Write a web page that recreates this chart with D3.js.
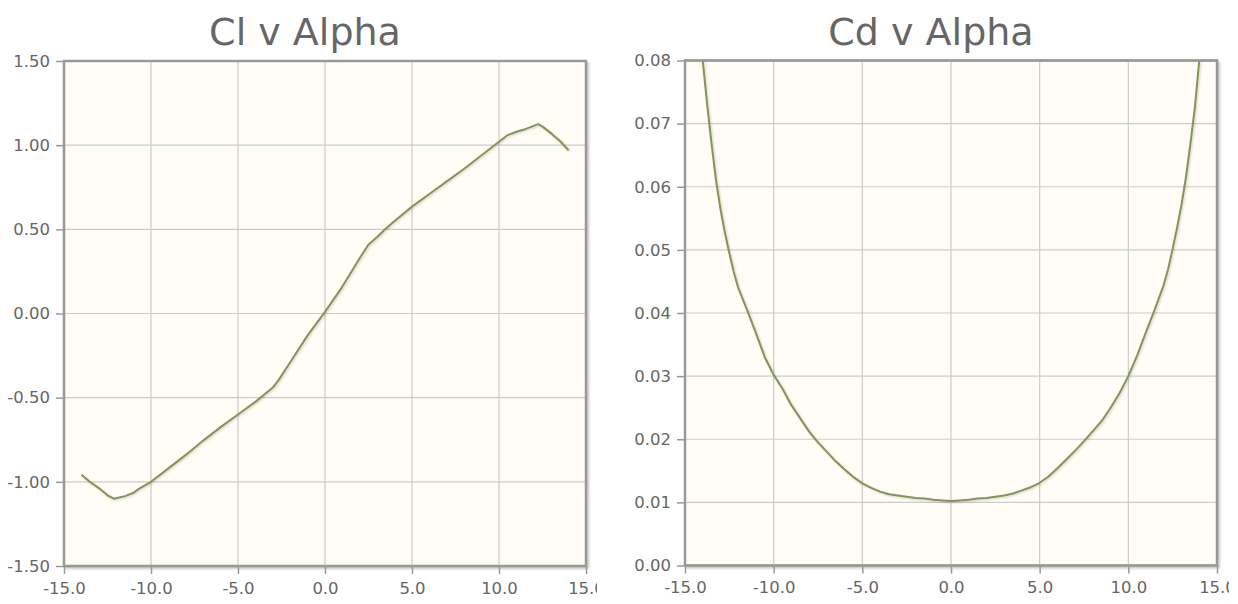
<!DOCTYPE html>
<html>
<head>
<meta charset="utf-8">
<script src="https://cdn.jsdelivr.net/npm/d3@7"></script>
<style>
  html, body { margin: 0; padding: 0; background: #ffffff; }
  svg { display: block; }
</style>
</head>
<body>
<svg id="chart" width="1238" height="604"></svg>
<script>
// ---------- data ----------
const clTitle = "Cl v Alpha";
const cdTitle = "Cd v Alpha";

const clAlpha = [-14, -13.5, -13, -12.5, -12.14, -11.5, -11, -10.7, -10, -9, -8, -7, -6, -5, -4, -3, -2.65, -2, -1, 0, 1, 2, 2.5, 3, 3.5, 4, 5, 6, 7, 8, 9, 10, 10.5, 11, 11.5, 12, 12.25, 12.5, 13, 13.5, 14];
const clValues = [-0.958, -1.001, -1.037, -1.08, -1.100, -1.085, -1.065, -1.042, -1.000, -0.92, -0.84, -0.755, -0.675, -0.600, -0.525, -0.44, -0.393, -0.29, -0.13, 0.01, 0.16, 0.33, 0.41, 0.455, 0.505, 0.55, 0.635, 0.71, 0.785, 0.86, 0.94, 1.02, 1.06, 1.08, 1.095, 1.115, 1.125, 1.11, 1.07, 1.025, 0.97];

const cdAlpha = [-14, -13.75, -13.5, -13.25, -13, -12.75, -12.5, -12.25, -12, -11.5, -11, -10.5, -10, -9.5, -9, -8.5, -8, -7.5, -7, -6.5, -6, -5.5, -5, -4.5, -4, -3.5, -3, -2.5, -2, -1.5, -1, -0.5, 0, 0.5, 1, 1.5, 2, 2.5, 3, 3.5, 4, 4.5, 5, 5.5, 6, 6.5, 7, 7.5, 8, 8.5, 9, 9.5, 10, 10.5, 11, 11.5, 12, 12.25, 12.5, 12.75, 13, 13.25, 13.5, 13.75, 14];
const cdValues = [0.0800, 0.0730, 0.0668, 0.0610, 0.0565, 0.0527, 0.0495, 0.0465, 0.0440, 0.0405, 0.0368, 0.0330, 0.0302, 0.0280, 0.0254, 0.0233, 0.0212, 0.0195, 0.0180, 0.0165, 0.0152, 0.0140, 0.0130, 0.0123, 0.0117, 0.0113, 0.0111, 0.0109, 0.0107, 0.0106, 0.0104, 0.0103, 0.0102, 0.0103, 0.0104, 0.0106, 0.0107, 0.0109, 0.0111, 0.0114, 0.0119, 0.0124, 0.0131, 0.0141, 0.0154, 0.0168, 0.0182, 0.0197, 0.0213, 0.0229, 0.0250, 0.0273, 0.0300, 0.0333, 0.0370, 0.0406, 0.0445, 0.0470, 0.0502, 0.0535, 0.0572, 0.0615, 0.0668, 0.0725, 0.0800];

const xTicks = [-15, -10, -5, 0, 5, 10, 15];
const clYTicks = [-1.5, -1.0, -0.5, 0, 0.5, 1.0, 1.5];
const cdYTicks = [0, 0.01, 0.02, 0.03, 0.04, 0.05, 0.06, 0.07, 0.08];

// ---------- drawing ----------
const svg = d3.select("#chart");
const defs = svg.append("defs");

const shadow = defs.append("filter").attr("id", "shadow")
  .attr("x", "-5%").attr("y", "-5%").attr("width", "115%").attr("height", "115%");
shadow.append("feDropShadow").attr("dx", 2).attr("dy", 2)
  .attr("stdDeviation", 1.3).attr("flood-color", "#000").attr("flood-opacity", 0.22);

const lineShadow = defs.append("filter").attr("id", "lshadow")
  .attr("x", "-10%").attr("y", "-10%").attr("width", "120%").attr("height", "120%");
lineShadow.append("feDropShadow").attr("dx", 1).attr("dy", 1)
  .attr("stdDeviation", 0.8).attr("flood-color", "#000").attr("flood-opacity", 0.18);

function drawChart(opts) {
  const { id, clipX0, clipX1, left, right, top, bottom, yDomain, yTicks, yFmt, alpha, values, title } = opts;

  defs.append("clipPath").attr("id", "outer" + id)
    .append("rect").attr("x", clipX0).attr("y", 0).attr("width", clipX1 - clipX0).attr("height", 604);
  defs.append("clipPath").attr("id", "plot" + id)
    .append("rect").attr("x", left).attr("y", top).attr("width", right - left).attr("height", bottom - top);

  const g = svg.append("g").attr("clip-path", `url(#outer${id})`);

  const x = d3.scaleLinear().domain([-15, 15]).range([left, right]);
  const y = d3.scaleLinear().domain(yDomain).range([bottom, top]);

  // title
  g.append("text")
    .attr("x", (left + right) / 2 - 20)
    .attr("y", 45)
    .attr("text-anchor", "middle")
    .attr("font-family", "DejaVu Sans, Verdana, sans-serif")
    .attr("font-size", 38)
    .attr("fill", "#666666")
    .text(title);

  // background with shadowed border
  g.append("rect")
    .attr("x", left).attr("y", top)
    .attr("width", right - left).attr("height", bottom - top)
    .attr("fill", "#fffdf6")
    .attr("stroke", "#999999").attr("stroke-width", 2)
    .attr("filter", "url(#shadow)");

  // grid lines
  const grid = g.append("g");
  grid.selectAll("line.vx").data(xTicks.slice(1, -1)).enter().append("line")
    .attr("x1", d => x(d)).attr("x2", d => x(d))
    .attr("y1", top).attr("y2", bottom)
    .attr("stroke", "#cccccc").attr("stroke-width", 1.2);
  grid.selectAll("line.hy").data(yTicks.slice(1, -1)).enter().append("line")
    .attr("x1", left).attr("x2", right)
    .attr("y1", d => y(d)).attr("y2", d => y(d))
    .attr("stroke", "#cccccc").attr("stroke-width", 1.2);

  // series line
  const line = d3.line().x((d, i) => x(alpha[i])).y(d => y(d));
  g.append("g").attr("clip-path", `url(#plot${id})`)
    .append("path")
    .datum(values)
    .attr("d", line)
    .attr("fill", "none")
    .attr("stroke", "#839557")
    .attr("stroke-width", 2)
    .attr("stroke-linejoin", "round")
    .attr("filter", "url(#lshadow)");

  // border on top
  g.append("rect")
    .attr("x", left).attr("y", top)
    .attr("width", right - left).attr("height", bottom - top)
    .attr("fill", "none")
    .attr("stroke", "#999999").attr("stroke-width", 2.5);

  // axes
  const xAxis = d3.axisBottom(x).tickValues(xTicks).tickSize(8).tickPadding(8)
    .tickFormat(d3.format(".1f"));
  const xg = g.append("g").attr("transform", `translate(0,${bottom})`).call(xAxis);
  const yAxis = d3.axisLeft(y).tickValues(yTicks).tickSize(8).tickPadding(6)
    .tickFormat(d3.format(yFmt));
  const yg = g.append("g").attr("transform", `translate(${left},0)`).call(yAxis);

  [xg, yg].forEach(ax => {
    ax.select(".domain").remove();
    ax.selectAll(".tick line").attr("stroke", "#999999").attr("stroke-width", 1.5);
    ax.selectAll(".tick text")
      .attr("font-family", "DejaVu Sans, Verdana, sans-serif")
      .attr("font-size", 16.5)
      .attr("fill", "#666666");
  });
  xg.selectAll(".tick text").text(d => d3.format(".1f")(d).replace("−", "-"));
  yg.selectAll(".tick text").text(d => d3.format(yFmt)(d).replace("−", "-"));
}

drawChart({
  id: "cl", clipX0: 0, clipX1: 597,
  left: 64, right: 586, top: 61, bottom: 566,
  yDomain: [-1.5, 1.5], yTicks: clYTicks, yFmt: ".2f",
  alpha: clAlpha, values: clValues, title: clTitle
});

drawChart({
  id: "cd", clipX0: 617, clipX1: 1229,
  left: 685, right: 1217, top: 60.5, bottom: 565.5,
  yDomain: [0, 0.08], yTicks: cdYTicks, yFmt: ".2f",
  alpha: cdAlpha, values: cdValues, title: cdTitle
});
</script>
</body>
</html>
